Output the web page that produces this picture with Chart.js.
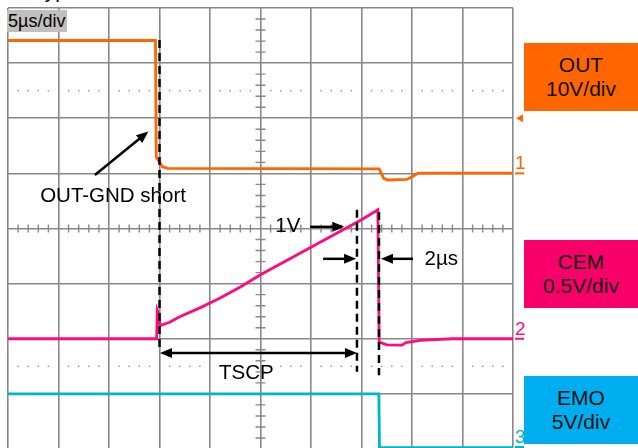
<!DOCTYPE html>
<html>
<head>
<meta charset="utf-8">
<script src="https://cdn.jsdelivr.net/npm/chart.js@4/dist/chart.umd.min.js"></script>
<style>
  html, body { margin: 0; padding: 0; background: #fff; width: 638px; height: 448px; overflow: hidden;
               font-family: "Liberation Sans", Arial, sans-serif; }
  #wrap { position: relative; width: 638px; height: 448px; overflow: hidden; }
  canvas { position: absolute; left: 0; top: 0; }
  .title { position: absolute; left: 33px; top: -21px; font-size: 21px; color: #000; white-space: nowrap; }
  .tdiv { position: absolute; left: 7px; top: 10px; width: 60px; height: 22px; background: #c0c0c0;
          font-size: 18px; line-height: 22px; padding-left: 1px; box-sizing: border-box; color: #000; }
  .lab { position: absolute; left: 524px; width: 114px; height: 68px; text-align: center; font-size: 21px;
         line-height: 24px; padding-top: 10px; box-sizing: border-box; color: #111; }
</style>
</head>
<body>
<div id="wrap">
  <canvas id="scope" width="638" height="450"></canvas>
  <div class="title">Typical Waveforms</div>
  <div class="tdiv">5µs/div</div>
  <div class="lab" style="top:43px;background:#ff6600">OUT<br>10V/div</div>
  <div class="lab" style="top:240px;background:#f7006a">CEM<br>0.5V/div</div>
  <div class="lab" style="top:376px;background:#00aeef">EMO<br>5V/div</div>
</div>
<script>
// Scope capture: 5 µs/div, 10 div wide, 8 div tall.
const GRID = "#888888";
const C_OUT = "#ff6600", C_CEM = "#ff0a80", C_EMO = "#00b5c8";

// OUT channel (10 V/div), time in µs
const OUT_T = [0, 14.6, 14.68, 15.0, 15.3, 15.8, 36.75, 37.2, 37.6, 39.5, 40.3, 40.6, 50];
const OUT_V = [24.1, 24.1, 3.0, 2.0, 1.2, 0.9, 0.8, -0.9, -1.2, -1.1, -0.3, 0.05, 0.05];

// CEM channel (0.5 V/div)
const CEM_T = [0, 14.72, 14.78, 14.95, 15.05, 16, 17, 19, 21, 23, 25, 27, 29, 31, 33, 35, 36.62,
               36.75, 37.5, 39, 39.4, 40.8, 44, 50];
const CEM_V = [0, 0, 0.26, 0.22, 0.12, 0.15, 0.2, 0.28, 0.37, 0.47, 0.58, 0.68, 0.78, 0.88, 0.98, 1.08, 1.17,
               -0.03, -0.055, -0.058, -0.035, -0.015, 0, 0];

// EMO channel (5 V/div)
const EMO_T = [0, 36.72, 36.78, 50];
const EMO_V = [5, 5, 0.12, 0.12];

// cursor markers (time µs, span in divisions from bottom)
const MARK_T = [15.0, 34.55, 36.73];
const MARK_TOP = [7.42, 4.34, 4.30];
const MARK_BOT = [1.76, 1.40, 1.34];

// annotations: [t1, div1, t2, div2, doubleHeaded]
const ARROWS = [
  [8.6, 4.97, 13.9, 5.76, false],
  [29.9, 4.03, 33.3, 4.03, false],
  [31.2, 3.45, 34.46, 3.45, false],
  [40.1, 3.45, 36.93, 3.45, false],
  [15.05, 1.74, 34.55, 1.74, true],
];
const LABELS = ["OUT-GND short", "1V", "2µs", "TSCP"];
const LABEL_T = [10.4, 27.7, 42.9, 23.6];
const LABEL_DIV = [4.6, 4.05, 3.45, 1.39];

const DOT_ROWS = [6.5, 1.5];
const TRIG_OUT = 10; // trigger level, V on OUT

const pts = (ts, vs) => ts.map((t, i) => ({ x: t, y: vs[i] }));

const trace = (label, ts, vs, axis, color) => ({
  label, data: pts(ts, vs), yAxisID: axis, borderColor: color, borderWidth: 2.8,
  pointRadius: 0, fill: false, tension: 0, order: 2,
});

const datasets = [
  trace("OUT", OUT_T, OUT_V, "yOut", C_OUT),
  trace("CEM", CEM_T, CEM_V, "yCem", C_CEM),
  trace("EMO", EMO_T, EMO_V, "yEmo", C_EMO),
];
MARK_T.forEach((t, i) => datasets.push({
  label: "_m" + i, data: [{ x: t, y: MARK_TOP[i] }, { x: t, y: MARK_BOT[i] }], yAxisID: "div",
  borderColor: "#000", borderWidth: 2.5, borderDash: [8, 5], pointRadius: 0, fill: false, order: 1,
}));

function drawArrow(ctx, x1, y1, x2, y2, both) {
  const a = Math.atan2(y2 - y1, x2 - x1);
  const head = (x, y, ang) => {
    ctx.beginPath();
    ctx.moveTo(x, y);
    ctx.lineTo(x - 12 * Math.cos(ang) + 5 * Math.sin(ang), y - 12 * Math.sin(ang) - 5 * Math.cos(ang));
    ctx.lineTo(x - 12 * Math.cos(ang) - 5 * Math.sin(ang), y - 12 * Math.sin(ang) + 5 * Math.cos(ang));
    ctx.closePath();
    ctx.fill();
  };
  ctx.beginPath();
  ctx.moveTo(both ? x1 + 6 * Math.cos(a) : x1, both ? y1 + 6 * Math.sin(a) : y1);
  ctx.lineTo(x2 - 6 * Math.cos(a), y2 - 6 * Math.sin(a));
  ctx.stroke();
  head(x2, y2, a);
  if (both) head(x1, y1, a + Math.PI);
}

const scopeDecor = {
  id: "scopeDecor",
  beforeDatasetsDraw(chart) {
    const { ctx, scales: { x, div } } = chart;
    ctx.save();
    // dotted rows
    ctx.fillStyle = "#9a9a9a";
    for (const d of DOT_ROWS) {
      const py = div.getPixelForValue(d);
      for (let t = 1; t < 50; t++) {
        if (t % 5 === 0) continue;
        ctx.fillRect(x.getPixelForValue(t) - 0.75, py - 0.75, 1.5, 1.5);
      }
    }
    // minor ticks on the centre cross
    ctx.strokeStyle = GRID;
    ctx.lineWidth = 1.4;
    const cy = div.getPixelForValue(4), cx = x.getPixelForValue(25);
    ctx.beginPath();
    for (let t = 1; t < 50; t++) {
      if (t % 5 === 0) continue;
      const px = x.getPixelForValue(t);
      ctx.moveTo(px, cy - 4); ctx.lineTo(px, cy + 4);
    }
    for (let k = 1; k < 40; k++) {
      if (k % 5 === 0) continue;
      const py = div.getPixelForValue(k / 5);
      ctx.moveTo(cx - 5, py); ctx.lineTo(cx + 5, py);
    }
    ctx.stroke();
    ctx.restore();
  },
  afterDatasetsDraw(chart) {
    const { ctx, chartArea, scales: { x, div, yOut, yCem, yEmo } } = chart;
    ctx.save();
    ctx.strokeStyle = "#000";
    ctx.fillStyle = "#000";
    ctx.lineWidth = 2.5;
    for (const [t1, d1, t2, d2, both] of ARROWS) {
      drawArrow(ctx, x.getPixelForValue(t1), div.getPixelForValue(d1),
                x.getPixelForValue(t2), div.getPixelForValue(d2), both);
    }
    ctx.font = '20.5px "Liberation Sans", Arial, sans-serif';
    ctx.textAlign = "center";
    ctx.textBaseline = "middle";
    LABELS.forEach((s, i) => ctx.fillText(s, x.getPixelForValue(LABEL_T[i]), div.getPixelForValue(LABEL_DIV[i]) + 1));

    // channel ground markers on the right edge
    const rx = chartArea.right + 2;
    const marks = [["1", yOut.getPixelForValue(0), C_OUT], ["2", yCem.getPixelForValue(0), C_CEM],
                   ["3", yEmo.getPixelForValue(0) - 2, C_EMO]];
    ctx.font = '19px "Liberation Sans", Arial, sans-serif';
    ctx.textAlign = "left";
    ctx.textBaseline = "alphabetic";
    for (const [s, py, col] of marks) {
      ctx.fillStyle = col;
      ctx.fillText(s, rx, py - 4);
      ctx.fillRect(rx, py - 1, 9, 2);
    }
    // trigger level arrow
    const ty = yOut.getPixelForValue(TRIG_OUT);
    ctx.fillStyle = C_OUT;
    ctx.beginPath();
    ctx.moveTo(rx + 1, ty); ctx.lineTo(rx + 8, ty - 4); ctx.lineTo(rx + 8, ty + 4);
    ctx.closePath(); ctx.fill();
    ctx.restore();
  },
};

const gridOpts = { color: GRID, lineWidth: 1.6, drawTicks: false };

new Chart(document.getElementById("scope"), {
  type: "line",
  data: { datasets },
  options: {
    responsive: false,
    animation: false,
    layout: { padding: { left: 8, top: 8, right: 125, bottom: 1 } },
    plugins: { legend: { display: false }, tooltip: { enabled: false } },
    scales: {
      x: { type: "linear", min: 0, max: 50, ticks: { display: false, stepSize: 5 },
           grid: gridOpts, border: { display: false } },
      div: { type: "linear", position: "left", min: 0, max: 8, ticks: { display: false, stepSize: 1 },
             grid: gridOpts, border: { display: false } },
      yOut: { type: "linear", display: false, min: -50, max: 30 },
      yCem: { type: "linear", display: false, min: -1, max: 3 },
      yEmo: { type: "linear", display: false, min: 0, max: 40 },
    },
  },
  plugins: [scopeDecor],
});
</script>
</body>
</html>
